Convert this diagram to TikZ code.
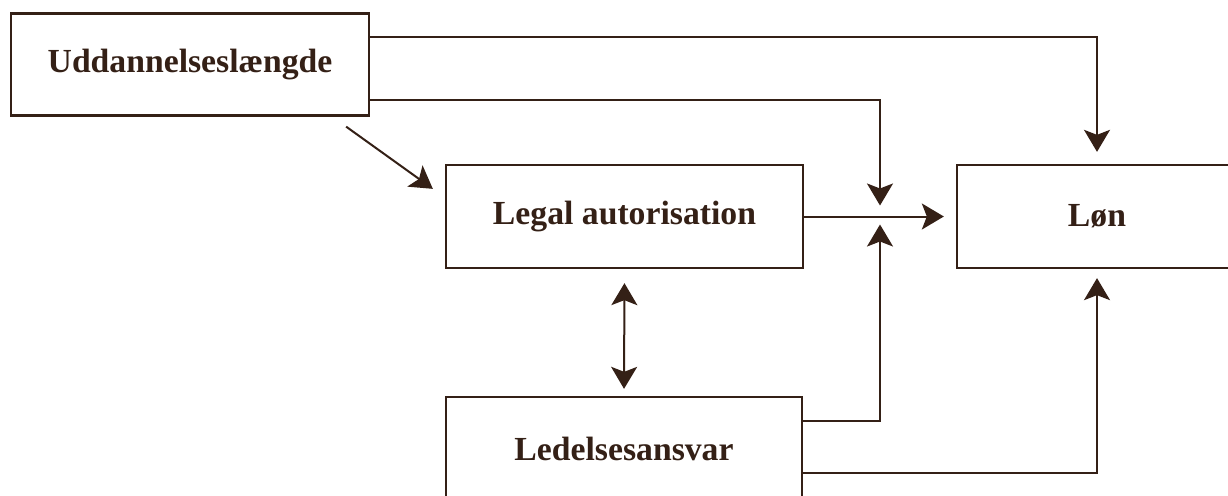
\documentclass[tikz,border=0pt]{standalone}
\usepackage{fontspec}
\setmainfont{Liberation Serif}
\usetikzlibrary{arrows.meta,calc}
\definecolor{ink}{RGB}{52,32,22}
\begin{document}
\begin{tikzpicture}[x=1pt,y=-1pt,
  box/.style={draw=ink,line width=2.3pt,text=ink,inner sep=0pt,font=\bfseries\fontsize{33.7}{40}\selectfont},
  arr/.style={draw=ink,line width=2pt,-{Stealth[length=22pt,width=26pt,inset=5pt]}},
  darr/.style={draw=ink,line width=2pt,{Stealth[length=22pt,width=26pt,inset=5pt]}-{Stealth[length=22pt,width=26pt,inset=5pt]}}]
\useasboundingbox (0,0) rectangle (1228,495);
\fill[white] (0,0) rectangle (1228,495);
\node[box,minimum width=358pt,minimum height=102pt] (U) at (190,64.5) {Uddannelseslængde};
\node[box,minimum width=357pt,minimum height=103pt] (L) at (624.5,216.5) {Legal autorisation};
\node[box,minimum width=280pt,minimum height=103pt] (N) at (1097,216.5) {Løn};
\node[box,minimum width=356pt,minimum height=103pt] (D) at (624,448.5) {Ledelsesansvar};
\coordinate (J) at (880,216.5);
\draw[arr,shorten >=12pt] (U.north east) ++(0,25) -| (N.north);
\draw[arr,shorten >=11pt] (U.south east) ++(0,-17) -| (J);
\draw[arr,shorten >=12pt] (L.east) -- (N.west);
\draw[arr,shorten >=8pt] (D.north east) ++(0,25) -| (J);
\draw[arr,shorten >=9pt] (D.north east) ++(0,77) -| (N.south);
\draw[arr] ($(U.south east)+(-24,10)$) -- ($(L.north west)+(-12,25)$);
\draw[darr,shorten <=14pt,shorten >=7pt] (L.south) -- (D.north);
\end{tikzpicture}
\end{document}
